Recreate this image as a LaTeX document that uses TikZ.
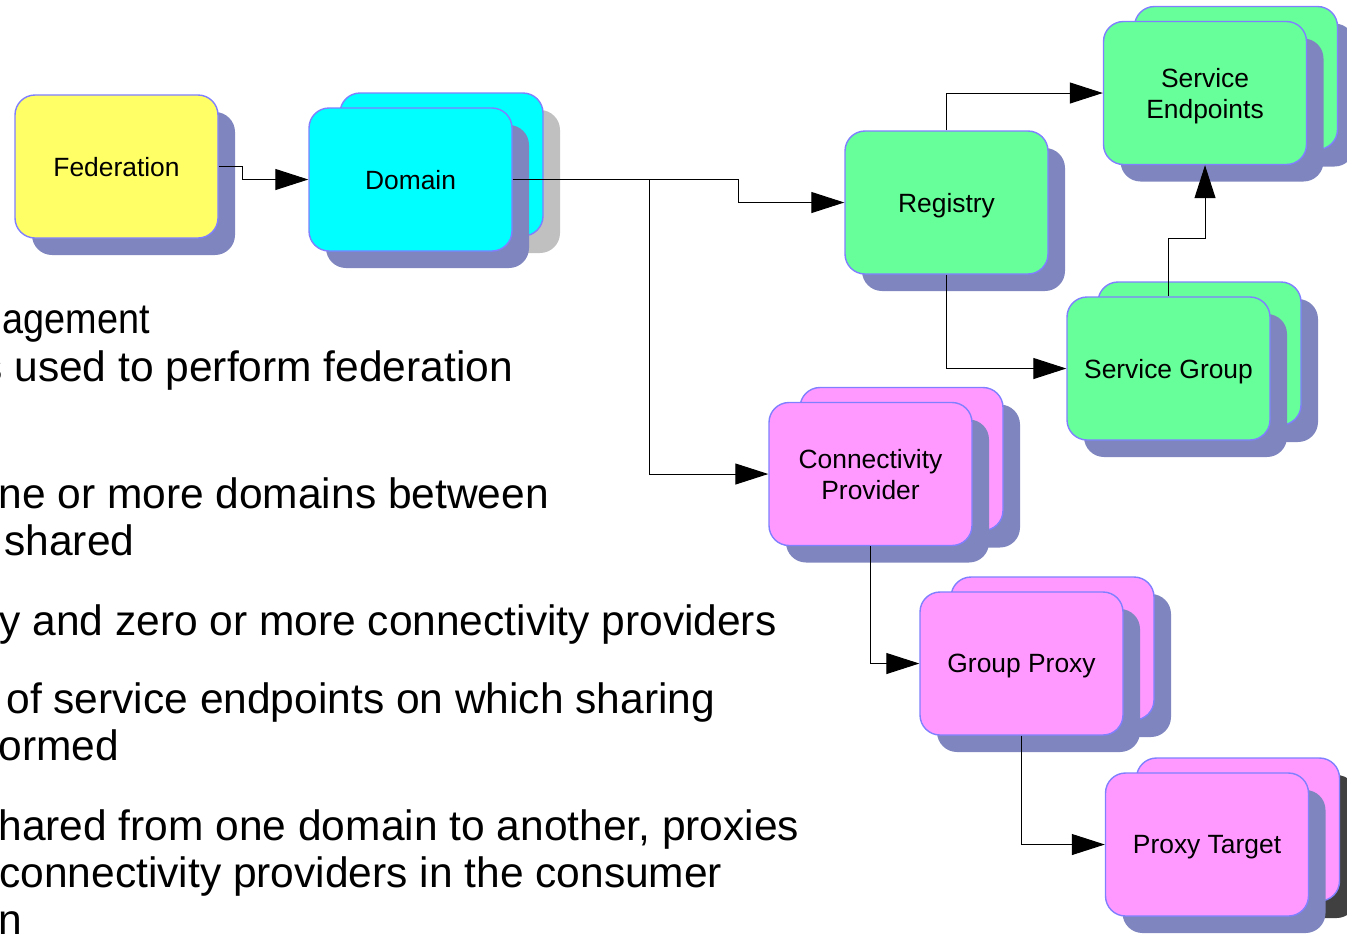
\documentclass[tikz,border=0pt]{standalone}
\usepackage{fontspec}
\setmainfont{Liberation Sans}
\usetikzlibrary{arrows.meta,shadows}

\definecolor{fedyellow}{HTML}{FFFF66}
\definecolor{domcyan}{HTML}{00FFFF}
\definecolor{regrgreen}{HTML}{66FF99}
\definecolor{proxypink}{HTML}{FF99FF}
\definecolor{rimblue}{HTML}{7F7FFF}
\definecolor{shade}{HTML}{7F86BF}
\definecolor{lightshade}{HTML}{C0C0C0}
\definecolor{darkshade}{HTML}{404040}

\tikzset{
  box/.style={draw=rimblue, line width=0.7pt, rounded corners=10pt,
    minimum width=101.5pt, minimum height=71.5pt, inner sep=2pt, text depth=0pt,
    align=center, font=\fontsize{13.2}{15.5}\selectfont},
  frontshadow/.style={general shadow={fill=shade, shadow xshift=8.5pt, shadow yshift=-8.5pt}},
  single/.style={box, fill=#1, frontshadow},
  stacked/.style 2 args={box, fill=#1,
    general shadow={fill=#2, shadow xshift=24pt, shadow yshift=-1pt},
    general shadow={fill=#1, draw=rimblue, shadow xshift=15.5pt, shadow yshift=7.5pt},
    frontshadow},
  link/.style={draw=black, line width=0.5pt, -{Triangle[length=16.5pt, width=10.5pt]}},
  slide/.style={anchor=base west, inner sep=0pt, font=\fontsize{21.25}{24}\selectfont}
}

\begin{document}
\begin{tikzpicture}[x=0.5pt, y=-0.5pt]
        \useasboundingbox (0,0) rectangle (1347,934);
        \clip (0,0) rectangle (1347,934);
        %% notes on the left
        \node[slide] (note1) at (2,333) {\scalebox{0.89}[1]{agement}};
        \node[slide] (note2) at (-19,381) {s used to perform federation};
        \node[slide] (note3) at (-2,508) {ne or more domains between};
        \node[slide] (note4) at (4,555) {shared};
        \node[slide] (note5) at (-1,635) {y and zero or more connectivity providers};
        \node[slide] (note6) at (6,713) {of service endpoints on which sharing};
        \node[slide] (note7) at (-2,760) {ormed};
        \node[slide] (note8) at (-2,840) {hared from one domain to another, proxies};
        \node[slide] (note9) at (-1,887) {connectivity providers in the consumer};
        \node[slide] (note10) at (-2,934) {n};
        %% federation and domain
        \node[single=fedyellow] (fed) at (116.5,166.5) {Federation};
        \node[stacked={domcyan}{lightshade}] (dom) at (410.5,179.5) {Domain};
        %% registry side
        \node[single=regrgreen] (reg) at (946.5,202.5) {Registry};
        \node[stacked={regrgreen}{shade}] (se) at (1205,93) {Service\\Endpoints};
        \node[stacked={regrgreen}{shade}] (sg) at (1168.5,368.5) {Service Group};
        %% proxy side
        \node[stacked={proxypink}{shade}] (cp) at (870.5,474) {Connectivity\\Provider};
        \node[stacked={proxypink}{shade}] (gp) at (1021.5,663.5) {Group Proxy};
        \node[stacked={proxypink}{darkshade}] (pt) at (1207,844.5) {Proxy Target};
        %% links
        \draw[link] (fed.east) -- ++(12pt,0) |- (dom.west);
        \draw[link] (dom.east) -- ++(113pt,0) |- (reg.west);
        \draw[link] (dom.east) -- ++(68.5pt,0) |- (cp.west);
        \draw[link] (reg.north) |- (se.west);
        \draw[link] (reg.south) |- (sg.west);
        \draw[link] (sg.north) -- ++(0,29pt) -| (se.south);
        \draw[link] (cp.south) |- (gp.west);
        \draw[link] (gp.south) |- (pt.west);
    \end{tikzpicture}
\end{document}
